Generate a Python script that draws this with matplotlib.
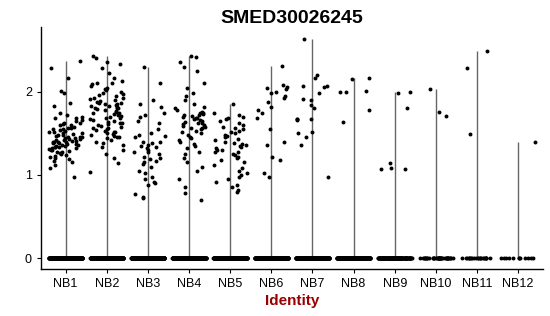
import numpy as np
import matplotlib
matplotlib.use('Agg')
import matplotlib.pyplot as plt

plt.rcParams['font.family'] = ['Liberation Sans', 'DejaVu Sans']

# Cell identities and expression values
identities = ['NB1', 'NB2', 'NB3', 'NB4', 'NB5', 'NB6',
              'NB7', 'NB8', 'NB9', 'NB10', 'NB11', 'NB12']

nb1 = [2.37, 2.29, 2.16, 2.01, 1.99, 1.87, 1.83, 1.75, 1.72, 1.70, 1.68, 1.68, 1.66,
       1.65, 1.63, 1.62, 1.61, 1.60, 1.60, 1.58, 1.57, 1.56, 1.55, 1.55, 1.54, 1.53,
       1.52, 1.51, 1.50, 1.50, 1.49, 1.48, 1.48, 1.47, 1.46, 1.46, 1.45, 1.44, 1.44,
       1.43, 1.43, 1.42, 1.42, 1.41, 1.41, 1.40, 1.40, 1.39, 1.39, 1.38, 1.38, 1.37,
       1.37, 1.36, 1.36, 1.35, 1.35, 1.34, 1.34, 1.33, 1.32, 1.32, 1.31, 1.30, 1.30,
       1.29, 1.28, 1.27, 1.26, 1.25, 1.24, 1.23, 1.22, 1.20, 1.19, 1.17, 1.15, 1.12,
       1.08, 0.98]
nb2 = [2.43, 2.41, 2.36, 2.33, 2.29, 2.22, 2.16, 2.13, 2.11, 2.10, 2.09, 2.07, 2.05,
       2.03, 2.02, 2.00, 1.99, 1.97, 1.96, 1.95, 1.93, 1.92, 1.91, 1.90, 1.89, 1.88,
       1.87, 1.86, 1.85, 1.85, 1.84, 1.83, 1.83, 1.82, 1.81, 1.80, 1.80, 1.79, 1.78,
       1.77, 1.76, 1.75, 1.74, 1.73, 1.72, 1.71, 1.70, 1.69, 1.68, 1.67, 1.66, 1.65,
       1.64, 1.63, 1.62, 1.61, 1.60, 1.59, 1.58, 1.57, 1.56, 1.55, 1.54, 1.53, 1.52,
       1.51, 1.50, 1.49, 1.48, 1.47, 1.46, 1.45, 1.44, 1.42, 1.40, 1.38, 1.36, 1.33,
       1.30, 1.25, 1.20, 1.14, 1.03]
nb3 = [2.30, 2.10, 1.90, 1.85, 1.82, 1.75, 1.72, 1.70, 1.65, 1.62, 1.55, 1.50, 1.48,
       1.47, 1.45, 1.40, 1.39, 1.38, 1.36, 1.35, 1.33, 1.32, 1.30, 1.28, 1.27, 1.25,
       1.22, 1.20, 1.19, 1.17, 1.15, 1.13, 1.10, 1.05, 1.02, 0.98, 0.95, 0.91, 0.90,
       0.88, 0.77, 0.74, 0.72]
nb4 = [2.43, 2.42, 2.36, 2.30, 2.25, 2.10, 2.05, 1.98, 1.95, 1.90, 1.85, 1.82, 1.80,
       1.78, 1.76, 1.75, 1.74, 1.73, 1.72, 1.72, 1.71, 1.70, 1.69, 1.68, 1.67, 1.66,
       1.65, 1.64, 1.63, 1.62, 1.61, 1.60, 1.59, 1.58, 1.57, 1.56, 1.55, 1.53, 1.52,
       1.50, 1.48, 1.46, 1.44, 1.42, 1.40, 1.37, 1.35, 1.32, 1.28, 1.25, 1.20, 1.15,
       1.10, 1.05, 0.95, 0.85, 0.78, 0.70]
nb5 = [1.85, 1.75, 1.72, 1.70, 1.68, 1.67, 1.65, 1.62, 1.60, 1.58, 1.57, 1.55, 1.53,
       1.52, 1.50, 1.48, 1.47, 1.45, 1.43, 1.42, 1.40, 1.38, 1.37, 1.36, 1.35, 1.33,
       1.32, 1.30, 1.30, 1.28, 1.27, 1.25, 1.24, 1.22, 1.20, 1.18, 1.15, 1.12, 1.08,
       1.05, 1.02, 1.00, 0.98, 0.95, 0.92, 0.88, 0.85, 0.82, 0.80]
nb6 = [2.31, 2.08, 2.06, 2.05, 2.03, 2.00, 1.99, 1.95, 1.93, 1.88, 1.82, 1.78, 1.75,
       1.69, 1.55, 1.39, 1.36, 1.22, 1.18, 1.02, 0.98]
nb7 = [2.64, 2.20, 2.17, 2.07, 2.07, 2.06, 1.99, 1.91, 1.90, 1.84, 1.80, 1.67, 1.67,
       1.66, 1.67, 1.51, 1.50, 1.46, 1.36, 0.98]
nb8 = [2.16, 2.15, 2.01, 2.00, 2.00, 1.78, 1.64]
nb9 = [2.00, 1.98, 1.81, 1.14, 1.08, 1.07, 1.07]
nb10 = [2.03, 1.76, 1.71]
nb11 = [2.49, 2.29, 1.49]
nb12 = [1.39]
expressed = [nb1, nb2, nb3, nb4, nb5, nb6, nb7, nb8, nb9, nb10, nb11, nb12]

# number of cells with zero expression in each identity
zero_counts = [300, 300, 300, 300, 300, 260, 260, 240, 140, 40, 22, 12]


def spread(n, k):
    # deterministic hash-style horizontal jitter (position only, not data)
    idx = np.arange(n) + k * 101 + 1
    frac = (np.sin(idx * 12.9898) * 43758.5453) % 1.0
    return (frac - 0.5) * 0.82


fig = plt.figure(figsize=(5.5, 3.16), dpi=100)
ax = fig.add_axes([0.0745, 0.149, 0.9125, 0.766])

for k, (vals, nz) in enumerate(zip(expressed, zero_counts)):
    pos = k + 1
    top = max(vals)
    ax.vlines(pos, 0, top, color='#666666', linewidth=1.0, zorder=1)
    yv = np.array(vals + [0.0] * nz)
    xv = pos + spread(len(yv), k)
    ax.scatter(xv, yv, s=8, color='black', linewidths=0, zorder=2)

ax.set_xlim(0.4, 12.6)
ax.set_ylim(-0.13, 2.78)
ax.set_xticks(range(1, len(identities) + 1))
ax.set_xticklabels(identities)
ax.set_yticks([0, 1, 2])
ax.tick_params(labelsize=9, length=3, width=0.8, color='black')
for side in ['top', 'right']:
    ax.spines[side].set_visible(False)
for side in ['left', 'bottom']:
    ax.spines[side].set_linewidth(1.0)

ax.set_title('SMED30026245', fontsize=14, fontweight='bold', pad=3)
ax.set_xlabel('Identity', fontsize=11, fontweight='bold', color='#990000', labelpad=3)

fig.savefig('out.png', dpi=100)
